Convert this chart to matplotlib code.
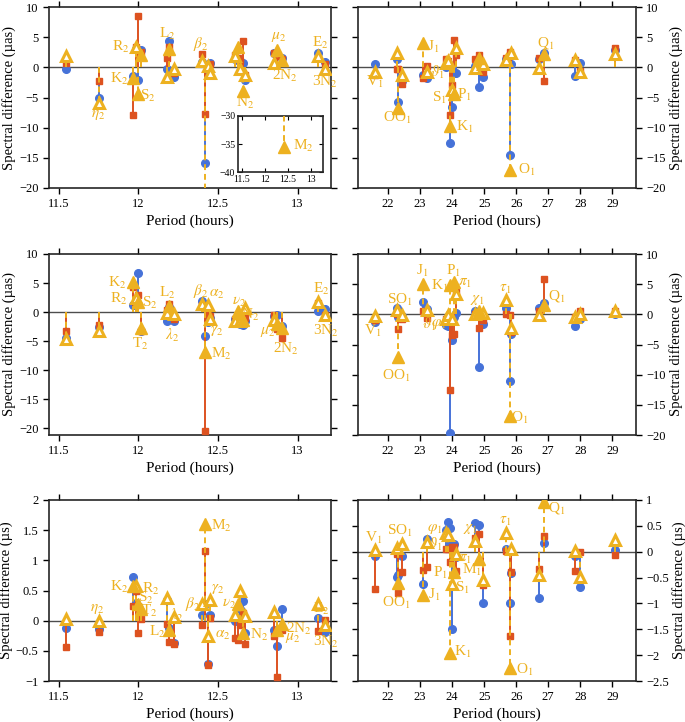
import matplotlib
matplotlib.use('Agg')
import matplotlib.pyplot as plt
import numpy as np

plt.rcParams['font.family'] = ['Liberation Serif', 'DejaVu Serif']
plt.rcParams['mathtext.fontset'] = 'stix'

BLUE = '#4672D8'
RED = '#DD5220'
YELLOW = '#EDB120'

# semidiurnal constituents (period in hours)
semi_period = [11.545, 11.754, 11.967, 11.984, 12.000, 12.016, 12.183, 12.192, 12.222,
               12.400, 12.421, 12.435, 12.450, 12.610, 12.626, 12.640, 12.658, 12.672,
               12.850, 12.872, 12.905, 13.127, 13.170]
semi_name = ['', r'$\eta_2$', 'K$_2$', 'R$_2$', 'S$_2$', 'T$_2$', '', 'L$_2$', r'$\lambda_2$',
             r'$\beta_2$', 'M$_2$', r'$\alpha_2$', r'$\gamma_2$', '', r'$\nu_2$', '', 'N$_2$', '',
             '', r'$\mu_2$', '2N$_2$', 'E$_2$', '3N$_2$']
semi_major = [0, 0, 1, 0, 1, 1, 0, 1, 0, 0, 1, 0, 0, 0, 1, 0, 1, 0, 0, 1, 1, 0, 0]

# diurnal constituents (period in hours)
diur_period = [21.578, 22.290, 22.306, 22.420, 23.098, 23.207, 23.804, 23.869, 23.934, 24.000,
               24.066, 24.132, 24.709, 24.833, 24.970, 25.668, 25.819, 25.835, 26.723, 26.868,
               27.848, 28.006, 29.070]
diur_name = ['V$_1$', '', 'OO$_1$', 'SO$_1$', 'J$_1$', r'$\vartheta_1$', r'$\varphi_1$', '',
             'K$_1$', 'S$_1$', 'P$_1$', r'$\pi_1$', r'$\chi_1$', 'M$_1$', '', r'$\tau_1$', 'O$_1$',
             '', '', 'Q$_1$', '', '', '']
diur_major = [0, 0, 1, 0, 1, 0, 0, 0, 1, 0, 1, 0, 0, 1, 0, 0, 1, 0, 0, 1, 0, 0, 0]

# top row (µas)
semi1_blue = [-0.3, -5.1, -1.5, 3.0, -2.1, 2.9, -0.2, 4.3, -1.6, 0.9, -15.8, -0.7, 0.7,
              1.3, 1.2, 0.9, 0.8, -2.1, 2.4, 2.0, 1.5, 2.4, 0.9]
semi1_red = [0.8, -2.2, -7.9, 3.3, 8.5, 2.5, 1.6, 3.4, -0.9, 2.2, -7.7, 0.3, 0.5,
             2.0, 1.5, 1.0, 4.4, -1.2, 2.3, 1.8, 1.3, 1.6, 0.6]
semi1_yellow = [1.8, -5.9, -1.8, 3.3, -4.5, 2.0, -1.6, 3.0, -0.3, 1.1, -35.5, 0.2, -1.0,
                1.8, 3.4, -0.2, -3.9, -1.2, 0.8, 2.9, 1.2, 1.9, -0.2]
diur1_blue = [0.5, 1.4, -5.7, -2.3, -1.2, -1.7, 0.0, 0.8, -12.6, -6.5, -1.0, -0.9, 0.2,
              -3.3, -1.6, 1.3, -14.6, 0.6, 1.4, 2.3, -1.5, 0.7, 2.9]
diur1_red = [-1.2, -0.2, -0.2, -2.7, -1.8, 0.3, 1.4, 1.0, -7.9, -3.0, 4.6, 2.0, 1.4,
             2.0, -0.8, 1.6, 2.5, 2.0, 1.5, -2.2, 1.2, -0.6, 3.2]
diur1_yellow = [-0.8, 2.4, -6.8, -1.2, 4.0, -0.7, 0.8, 1.0, -9.7, -3.8, -4.4, 3.2, -0.1,
                1.6, 0.6, 1.2, -17.0, 2.3, -0.1, 2.2, 1.2, -0.8, 2.2]

# middle row (µas)
semi2_blue = [-4.5, -2.6, 1.2, 1.2, 6.8, -3.2, -1.5, 0.9, -1.5, 1.9, -4.1, -1.8, -1.0,
              -1.2, -0.8, -2.0, -2.3, -1.5, -0.7, -0.5, -2.4, 0.1, 0.6]
semi2_red = [-3.3, -2.3, 4.3, 2.0, 3.0, -3.3, 0.3, 1.3, -1.2, 1.2, -20.5, -0.5, -0.7,
             -1.2, -0.9, -0.6, -0.9, -1.0, -0.6, -3.0, -4.4, 1.6, -0.5]
semi2_yellow = [-4.6, -3.2, 5.2, 2.4, 1.8, -2.7, -0.2, 1.1, -0.4, 1.3, -6.9, 1.2, -1.2,
                -1.5, 0.2, -1.5, -1.3, 0.7, -1.4, -2.1, -2.7, 1.8, -0.6]
diur2_blue = [-1.3, 1.1, -0.5, -0.3, 2.1, 0.9, -1.8, -2.0, -19.6, -4.2, -0.5, 0.2, 0.6,
              -8.7, -1.6, 1.0, -11.1, -3.3, 1.1, 1.9, -2.0, -0.7, 0.0]
diur2_red = [-1.0, 0.0, -2.5, -0.7, 0.5, -0.6, -0.8, -0.5, -12.6, -3.5, -3.3, 3.7, 0.1,
             -2.2, -1.0, 0.0, -0.1, -3.0, 0.5, 5.8, -0.5, 0.5, 0.6]
diur2_yellow = [-0.3, 0.7, -7.0, -0.1, 5.0, 0.7, -0.7, -0.1, 4.8, -0.8, 5.4, 3.4, 0.0,
                0.5, 0.3, 2.3, -16.9, -2.2, -0.1, 1.5, -0.4, 0.1, 0.6]

# bottom row (µs)
semi3_blue = [-0.12, -0.13, 0.72, 0.30, 0.25, 0.12, 0.35, -0.12, -0.37, 0.10, 0.27, -0.72,
              0.10, 0.00, 0.00, 0.20, 0.32, -0.20, -0.15, -0.42, 0.19, 0.05, -0.18]
semi3_red = [-0.43, -0.19, 0.24, 0.50, -0.21, 0.03, -0.05, -0.35, -0.38, -0.08, 1.16, -0.74,
             0.05, -0.28, -0.32, -0.08, 0.12, -0.39, -0.25, -0.93, -0.16, -0.17, 0.01]
semi3_yellow = [0.02, 0.00, 0.58, 0.58, 0.28, 0.20, 0.38, -0.15, 0.06, 0.28, 1.60, -0.25,
                0.35, 0.10, 0.28, 0.50, -0.20, 0.07, 0.14, -0.15, -0.05, 0.28, -0.07]
diur3_blue = [-0.08, -0.48, -0.45, -0.08, -0.63, 0.25, 0.42, 0.58, 0.45, -1.49, 0.14, -0.10,
              0.55, 0.52, -0.99, 0.06, -0.99, -0.41, -0.89, 0.17, -0.08, -0.68, 0.03]
diur3_red = [-0.72, -0.05, -0.79, -0.40, -0.36, -0.30, 0.05, 0.05, -0.20, 0.10, 0.10, -0.38,
             0.27, 0.35, -0.65, 0.02, -1.63, -0.39, -0.34, 0.31, -0.37, -0.01, -0.06]
diur3_yellow = [0.03, 0.07, -0.60, 0.15, -0.83, 0.18, 0.37, 0.33, -1.95, -0.62, -0.40, -0.05,
                0.20, -0.15, -0.55, 0.37, -2.25, 0.05, -0.45, 0.97, 0.02, -0.48, 0.23]

# where each constituent name is written, per panel
labels1 = {r'$\eta_2$': (11.75, -7.9), 'K$_2$': (11.88, -2.0), 'R$_2$': (11.89, 3.4),
           'S$_2$': (12.06, -4.7), 'L$_2$': (12.18, 5.6), r'$\beta_2$': (12.39, 3.9),
           'N$_2$': (12.67, -5.9), r'$\mu_2$': (12.88, 5.0), '2N$_2$': (12.92, -1.4),
           'E$_2$': (13.14, 4.0), '3N$_2$': (13.17, -2.4)}
labels2 = {'V$_1$': (21.59, -2.4), 'OO$_1$': (22.29, -8.4), 'J$_1$': (23.42, 3.4),
           r'$\vartheta_1$': (23.55, -0.9), 'S$_1$': (23.6, -5.1), 'P$_1$': (24.38, -4.6),
           'K$_1$': (24.38, -9.8), 'O$_1$': (26.34, -17.0), 'Q$_1$': (26.92, 4.0)}
labels3 = {'K$_2$': (11.87, 5.0), 'R$_2$': (11.88, 2.2), 'S$_2$': (12.07, 1.6),
           'T$_2$': (12.01, -5.5), 'L$_2$': (12.18, 3.3), r'$\lambda_2$': (12.21, -4.1),
           r'$\beta_2$': (12.39, 3.6), r'$\alpha_2$': (12.49, 3.0), r'$\nu_2$': (12.63, 1.8),
           'N$_2$': (12.70, -0.5), r'$\gamma_2$': (12.49, -3.3), 'M$_2$': (12.52, -7.3),
           r'$\mu_2$': (12.81, -3.5), '2N$_2$': (12.93, -6.4), 'E$_2$': (13.15, 3.9),
           '3N$_2$': (13.18, -3.3)}
labels4 = {'V$_1$': (21.51, -2.75), 'SO$_1$': (22.36, 2.4), 'OO$_1$': (22.26, -10.2),
           'J$_1$': (23.07, 7.2), 'K$_1$': (23.6, 4.7), 'P$_1$': (24.05, 7.2),
           r'$\pi_1$': (24.4, 5.2), r'$\vartheta_1$': (23.28, -1.6), r'$\varphi_1$': (23.6, -1.6),
           r'$\chi_1$': (24.78, 2.4), r'$\tau_1$': (25.66, 4.1), 'O$_1$': (26.12, -17.2),
           'Q$_1$': (27.26, 3.0)}
labels5 = {r'$\eta_2$': (11.74, 0.19), 'K$_2$': (11.88, 0.56), 'R$_2$': (12.08, 0.52),
           'S$_2$': (12.05, 0.38), 'T$_2$': (12.07, 0.16), 'L$_2$': (12.12, -0.18),
           r'$\lambda_2$': (12.24, 0.09), r'$\beta_2$': (12.34, 0.27), 'M$_2$': (12.52, 1.57),
           r'$\gamma_2$': (12.50, 0.52), r'$\alpha_2$': (12.53, -0.25), r'$\nu_2$': (12.57, 0.27),
           'N$_2$': (12.76, -0.23), '2N$_2$': (13.01, -0.14), r'$\mu_2$': (12.97, -0.28),
           'E$_2$': (13.15, 0.19), '3N$_2$': (13.18, -0.36)}
labels6 = {'V$_1$': (21.54, 0.27), 'SO$_1$': (22.36, 0.4), 'OO$_1$': (22.26, -1.0),
           'J$_1$': (23.43, -0.84), r'$\vartheta_1$': (23.48, 0.14), r'$\varphi_1$': (23.46, 0.43),
           r'$\chi_1$': (24.57, 0.43), r'$\pi_1$': (24.41, -0.14), 'P$_1$': (23.64, -0.42),
           'S$_1$': (24.33, -0.71), 'M$_1$': (24.62, -0.35), 'K$_1$': (24.33, -1.94),
           r'$\tau_1$': (25.66, 0.59), 'O$_1$': (26.28, -2.28), 'Q$_1$': (27.26, 0.85)}


def draw_stems(ax, period, major, blue, red, yellow):
    period = np.asarray(period)
    major = np.asarray(major, dtype=bool)
    blue, red, yellow = np.asarray(blue), np.asarray(red), np.asarray(yellow)
    ax.axhline(0, color='0.3', lw=1.0, zorder=1)
    ax.vlines(period, 0, blue, colors=BLUE, lw=1.4, zorder=2)
    ax.plot(period, blue, 'o', color=BLUE, ms=5.5, zorder=3)
    ax.vlines(period, 0, red, colors=RED, lw=1.4, zorder=4)
    ax.plot(period, red, 's', color=RED, ms=5, zorder=5)
    ax.vlines(period, 0, yellow, colors=YELLOW, lw=1.4, linestyles=(0, (3, 2)), zorder=6)
    ax.plot(period[major], yellow[major], '^', color=YELLOW, ms=8, zorder=8)
    ax.plot(period[~major], yellow[~major], '^', mfc='white', mec=YELLOW, mew=2.2,
            ms=6.5, zorder=7)


def style_axes(ax, side, ylabel):
    ax.tick_params(direction='out', length=4, width=1, labelsize=9,
                   top=True, bottom=True, left=True, right=True,
                   labelleft=(side == 'left'), labelright=(side == 'right'))
    for sp in ax.spines.values():
        sp.set_linewidth(1.2)
        sp.set_color('0.15')
    ax.set_xlabel('Period (hours)', fontsize=11, labelpad=3)
    ax.set_ylabel(ylabel, fontsize=10.5, labelpad=2)
    ax.yaxis.set_label_position(side)


def add_labels(ax, labels):
    for name, (x, y) in labels.items():
        ax.text(x, y, name, color=YELLOW, fontsize=11, ha='center', va='center', zorder=9)


W, H = 685, 722
fig = plt.figure(figsize=(W / 100, H / 100), dpi=100)

left_x, right_x = 49 / W, 358 / W
left_w, right_w = 282 / W, 278 / W
row_bottoms = [1 - 188 / H, 1 - 435 / H, 1 - 681 / H]
row_h = 181 / H

semi_sets = [(semi1_blue, semi1_red, semi1_yellow, labels1, (-20, 10), 'Spectral difference (µas)'),
             (semi2_blue, semi2_red, semi2_yellow, labels3, (-21.2, 10), 'Spectral difference (µas)'),
             (semi3_blue, semi3_red, semi3_yellow, labels5, (-1, 2), 'Spectral difference (µs)')]
diur_sets = [(diur1_blue, diur1_red, diur1_yellow, labels2, (-20, 10), 'Spectral difference (µas)'),
             (diur2_blue, diur2_red, diur2_yellow, labels4, (-20, 10), 'Spectral difference (µas)'),
             (diur3_blue, diur3_red, diur3_yellow, labels6, (-2.5, 1), 'Spectral difference (µs)')]

for row in range(3):
    b, r, y, labs, ylim, ylab = semi_sets[row]
    ax = fig.add_axes([left_x, row_bottoms[row], left_w, row_h])
    draw_stems(ax, semi_period, semi_major, b, r, y)
    add_labels(ax, labs)
    ax.set_xlim(11.44, 13.21)
    ax.set_ylim(*ylim)
    ax.set_xticks([11.5, 12, 12.5, 13])
    ax.set_xticklabels(['11.5', '12', '12.5', '13'])
    if row == 2:
        ax.set_yticks([-1, -0.5, 0, 0.5, 1, 1.5, 2])
        ax.set_yticklabels(['\u22121', '\u22120.5', '0', '0.5', '1', '1.5', '2'])
    else:
        ax.set_yticks([-20, -15, -10, -5, 0, 5, 10])
        ax.set_yticklabels(['\u221220', '\u221215', '\u221210', '\u22125', '0', '5', '10'])
    style_axes(ax, 'left', ylab)

    b, r, y, labs, ylim, ylab = diur_sets[row]
    ax = fig.add_axes([right_x, row_bottoms[row], right_w, row_h])
    draw_stems(ax, diur_period, diur_major, b, r, y)
    add_labels(ax, labs)
    ax.set_xlim(21.06, 29.74)
    ax.set_ylim(*ylim)
    ax.set_xticks(range(22, 30))
    if row == 2:
        ax.set_yticks([-2.5, -2, -1.5, -1, -0.5, 0, 0.5, 1])
        ax.set_yticklabels(['\u22122.5', '\u22122', '\u22121.5', '\u22121', '\u22120.5', '0', '0.5', '1'])
    else:
        ax.set_yticks([-20, -15, -10, -5, 0, 5, 10])
        ax.set_yticklabels(['\u221220', '\u221215', '\u221210', '\u22125', '0', '5', '10'])
    style_axes(ax, 'right', ylab)

# inset with the off-scale M2 value of the top-left panel
ins = fig.add_axes([238 / W, 1 - 172 / H, 85 / W, 56 / H])
ins.set_facecolor('white')
draw_stems(ins, semi_period, semi_major, semi1_blue, semi1_red, semi1_yellow)
ins.set_xlim(11.42, 13.26)
ins.set_ylim(-40, -30)
ins.set_xticks([11.5, 12, 12.5, 13])
ins.set_xticklabels(['11.5', '12', '12.5', '13'])
ins.set_yticks([-40, -35, -30])
ins.set_yticklabels(['\u221240', '\u221235', '\u221230'])
ins.tick_params(direction='in', length=3, labelsize=7, top=True, right=True, pad=2)
for sp in ins.spines.values():
    sp.set_linewidth(1.2)
    sp.set_color('0.15')
ins.text(12.62, -35.3, 'M$_2$', color=YELLOW, fontsize=11, ha='left', va='center')

fig.savefig('out.png', dpi=100)
